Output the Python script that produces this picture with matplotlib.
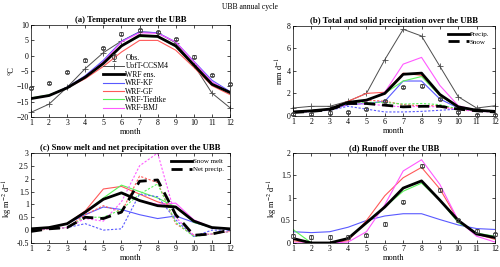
import numpy as np
import matplotlib
matplotlib.use("Agg")
from matplotlib import pyplot as plt

plt.rcParams['font.family'] = ['Liberation Serif', 'DejaVu Serif']
plt.rcParams['mathtext.fontset'] = 'stix'

months = np.arange(1, 13)

# (a) temperature
t_obs = [-10.5, -9, -5.3, -1.5, 2.5, 7.2, 8.3, 7.7, 5.5, -0.3, -6.3, -9.2]
t_ccsm = [-18.5, -15.8, -10.3, -4.2, 1, 4.8, 7.8, 7.5, 4.2, -3, -12.2, -17]
t_ens = [-14, -13, -10.5, -7, -2.5, 3.2, 6.6, 6.3, 3.2, -3, -9.3, -12]
t_kf = [-14, -13, -10.3, -6.5, -1.5, 4.7, 7.8, 7.5, 4.5, -1.8, -8, -11.7]
t_gf = [-14, -13, -10.5, -7.5, -3.5, 1.2, 5, 5, 1.8, -3.8, -9.8, -12.7]
t_tie = [-13.8, -12.8, -10.5, -7, -2.5, 3.4, 6.2, 6.2, 3, -3.3, -9.2, -12.2]
t_bmj = [-14, -13, -10.5, -6.8, -2, 4.5, 7.5, 7.3, 4.5, -2, -8.5, -12]

# (b) precipitation and snowfall
p_obs = [0.15, 0.15, 0.3, 0.35, 0.6, 1.3, 2.6, 2.7, 1.5, 0.35, 0.05, 0.1]
p_ccsm = [0.7, 0.85, 0.85, 1.3, 2.0, 5.0, 7.7, 7.1, 4.4, 1.7, 0.7, 0.9]
p_ens = [0.35, 0.45, 0.6, 1.2, 1.4, 2.0, 3.7, 3.8, 1.9, 0.8, 0.5, 0.4]
p_kf = [0.3, 0.4, 0.55, 1.0, 1.1, 1.3, 3.1, 3.1, 1.5, 0.7, 0.45, 0.4]
p_gf = [0.35, 0.45, 0.6, 1.3, 2.0, 2.1, 3.8, 3.6, 1.8, 0.8, 0.5, 0.4]
p_tie = [0.35, 0.45, 0.6, 1.2, 1.4, 2.0, 3.1, 3.5, 1.8, 0.75, 0.5, 0.4]
p_bmj = [0.35, 0.45, 0.6, 1.2, 1.3, 2.1, 4.6, 5.2, 2.7, 0.9, 0.5, 0.4]
s_ens = [0.3, 0.4, 0.55, 1.1, 1.1, 0.95, 0.8, 0.85, 0.85, 0.6, 0.45, 0.35]
s_kf = [0.3, 0.4, 0.5, 0.85, 0.6, 0.35, 0.35, 0.4, 0.5, 0.6, 0.45, 0.35]
s_gf = [0.3, 0.4, 0.55, 1.1, 1.4, 1.3, 1.0, 0.9, 0.9, 0.55, 0.45, 0.35]
s_tie = [0.3, 0.4, 0.55, 1.1, 1.2, 1.2, 1.05, 1.1, 1.0, 0.6, 0.45, 0.35]
s_bmj = [0.3, 0.4, 0.55, 1.0, 1.1, 0.9, 0.8, 0.85, 0.8, 0.55, 0.4, 0.35]

# (c) snow melt and net precipitation
m_ens = [0.05, 0.1, 0.25, 0.7, 1.2, 1.45, 1.15, 0.95, 0.9, 0.35, 0.1, 0.05]
m_kf = [0.05, 0.1, 0.25, 0.6, 0.9, 0.8, 0.6, 0.45, 0.55, 0.3, 0.1, 0.05]
m_gf = [0.05, 0.1, 0.25, 0.75, 1.6, 1.7, 1.4, 1.1, 0.9, 0.35, 0.1, 0.05]
m_tie = [0.05, 0.1, 0.25, 0.7, 1.25, 1.75, 1.5, 1.25, 0.9, 0.3, 0.1, 0.05]
m_bmj = [0.05, 0.1, 0.25, 0.7, 1.2, 1.45, 1.15, 1.0, 1.05, 0.4, 0.1, 0.05]
n_ens = [-0.05, 0.05, 0.1, 0.5, 0.45, 0.7, 1.9, 1.95, 0.6, -0.2, -0.15, 0.0]
n_kf = [0.0, 0.05, 0.1, 0.25, 0.0, 0.05, 1.4, 1.3, 0.4, -0.25, 0.0, 0.0]
n_gf = [-0.05, 0.05, 0.1, 0.6, 0.95, 0.7, 2.1, 1.85, 0.25, -0.2, -0.15, -0.05]
n_tie = [0.0, 0.05, 0.1, 0.5, 0.5, 0.8, 1.4, 1.8, 0.3, -0.25, -0.15, -0.05]
n_bmj = [0.0, 0.05, 0.1, 0.45, 0.35, 1.1, 2.5, 3.0, 0.5, -0.2, -0.15, -0.05]

# (d) runoff
r_obs = [0.15, 0.13, 0.13, 0.13, 0.17, 0.42, 0.92, 1.72, 1.18, 0.5, 0.27, 0.19]
r_ens = [0.1, 0.0, 0.0, 0.1, 0.45, 0.8, 1.22, 1.38, 0.95, 0.5, 0.2, 0.12]
r_kf = [0.25, 0.23, 0.25, 0.35, 0.5, 0.6, 0.65, 0.65, 0.52, 0.4, 0.32, 0.3]
r_gf = [0.05, 0.0, 0.0, 0.05, 0.5, 1.05, 1.45, 1.68, 1.2, 0.5, 0.2, 0.08]
r_tie = [0.3, 0.0, 0.0, 0.1, 0.45, 0.8, 1.15, 1.33, 0.95, 0.45, 0.22, 0.15]
r_bmj = [0.0, 0.0, 0.0, 0.02, 0.25, 0.85, 1.6, 1.85, 1.3, 0.5, 0.15, 0.02]

cb = (0.35, 0.35, 1.0)
cr = (1.0, 0.35, 0.35)
cg = (0.35, 0.95, 0.35)
cm = (1.0, 0.35, 1.0)

fig = plt.figure(figsize=(5, 2.67), dpi=100)
ax_a = fig.add_axes([0.062, 0.562, 0.398, 0.344])
ax_b = fig.add_axes([0.586, 0.566, 0.404, 0.337])
ax_c = fig.add_axes([0.062, 0.09, 0.398, 0.337])
ax_d = fig.add_axes([0.586, 0.09, 0.404, 0.337])

fig.text(0.5, 0.975, 'UBB annual cycle', ha='center', va='center', fontsize=5.5)


def style(ax, title, ylabel, ylim, yticks):
    ax.set_xlim(1, 12)
    ax.set_xticks(months)
    ax.set_ylim(*ylim)
    ax.set_yticks(yticks)
    ax.tick_params(direction='in', top=True, right=True, labelsize=5.7,
                   length=2, width=0.5, pad=1.5)
    for s in ax.spines.values():
        s.set_linewidth(0.5)
    ax.set_title(title, fontsize=6.2, fontweight='bold', pad=2)
    ax.set_xlabel('month', fontsize=6, labelpad=0.5)
    ax.set_ylabel(ylabel, fontsize=6, labelpad=1)


def obs(ax, y, err):
    eb = ax.errorbar(months, y, yerr=err, fmt='o', ms=3, mfc='none', mec='0.25',
                     mew=0.6, ecolor='0.25', elinewidth=0.6, capsize=1.2, capthick=0.6,
                     label='Obs.', zorder=6)
    for art in eb.lines[0:1] + tuple(eb.lines[1]) + tuple(eb.lines[2]):
        art.set_clip_on(False)
    return eb


# (a)
ax = ax_a
obs(ax, t_obs, 0.4)
ax.plot(months, t_ccsm, color='0.3', lw=0.7, marker='+', ms=4, mew=0.6, label='UofT-CCSM4',
        clip_on=False)
ax.plot(months, t_kf, color=cb, lw=0.8, label='WRF-KF')
ax.plot(months, t_gf, color=cr, lw=0.8, label='WRF-GF')
ax.plot(months, t_tie, color=cg, lw=0.8, label='WRF-Tiedtke')
ax.plot(months, t_bmj, color=cm, lw=0.8, label='WRF-BMJ')
ax.plot(months, t_ens, color='k', lw=2, label='WRF ens.')
style(ax, '(a) Temperature over the UBB', '°C', (-20, 10), np.arange(-20, 11, 5))
h, l = ax.get_legend_handles_labels()
order = ['Obs.', 'UofT-CCSM4', 'WRF ens.', 'WRF-KF', 'WRF-GF', 'WRF-Tiedtke', 'WRF-BMJ']
hd = dict(zip(l, h))
ax.legend([hd[k] for k in order], order, loc='lower left', bbox_to_anchor=(0.34, 0.0),
          frameon=False, fontsize=5.5, handlelength=2.7, labelspacing=0.05,
          handletextpad=0.2, borderaxespad=0.2)

# (b)
ax = ax_b
obs(ax, p_obs, 0.1)
ax.plot(months, p_ccsm, color='0.3', lw=0.7, marker='+', ms=4, mew=0.6, clip_on=False)
for y, c in [(p_kf, cb), (p_gf, cr), (p_tie, cg), (p_bmj, cm)]:
    ax.plot(months, y, color=c, lw=0.8)
for y, c in [(s_kf, cb), (s_gf, cr), (s_tie, cg), (s_bmj, cm)]:
    ax.plot(months, y, color=c, lw=0.8, ls=(0, (2, 1.5)))
l1, = ax.plot(months, p_ens, color='k', lw=2, label='Precip.')
l2, = ax.plot(months, s_ens, color='k', lw=2, ls=(0, (4, 2.5)), label='Snow')
style(ax, '(b) Total and solid precipitation over the UBB', 'mm d$^{-1}$', (0, 8), np.arange(0, 9, 2))
ax.legend(handles=[l1, l2], loc='upper right', frameon=False, fontsize=5,
          handlelength=3.0, labelspacing=0.25, handletextpad=0.2, borderaxespad=0.4)

# (c)
ax = ax_c
for y, c in [(m_kf, cb), (m_gf, cr), (m_tie, cg), (m_bmj, cm)]:
    ax.plot(months, y, color=c, lw=0.8)
for y, c in [(n_kf, cb), (n_gf, cr), (n_tie, cg), (n_bmj, cm)]:
    ax.plot(months, y, color=c, lw=0.8, ls=(0, (2, 1.5)))
l1, = ax.plot(months, m_ens, color='k', lw=2, label='Snow melt')
l2, = ax.plot(months, n_ens, color='k', lw=2, ls=(0, (4, 2.5)), label='Net precip.')
style(ax, '(c) Snow melt and net precipitation over the UBB', 'kg m$^{-2}$ d$^{-1}$',
      (-0.5, 3), np.arange(-0.5, 3.01, 0.5))
ax.set_yticklabels(['-0.5', '0', '0.5', '1', '1.5', '2', '2.5', '3'])
ax.legend(handles=[l1, l2], loc='upper right', frameon=False, fontsize=5,
          handlelength=3.0, labelspacing=0.25, handletextpad=0.2, borderaxespad=0.4)

# (d)
ax = ax_d
for y, c in [(r_kf, cb), (r_gf, cr), (r_tie, cg), (r_bmj, cm)]:
    ax.plot(months, y, color=c, lw=0.8)
ax.plot(months, r_ens, color='k', lw=2)
obs(ax, r_obs, 0.04)
style(ax, '(d) Runoff over the UBB', 'kg m$^{-2}$ d$^{-1}$', (0, 2), np.arange(0, 2.01, 0.5))
ax.set_yticklabels(['0', '0.5', '1', '1.5', '2'])

fig.savefig('out.png', dpi=100)
